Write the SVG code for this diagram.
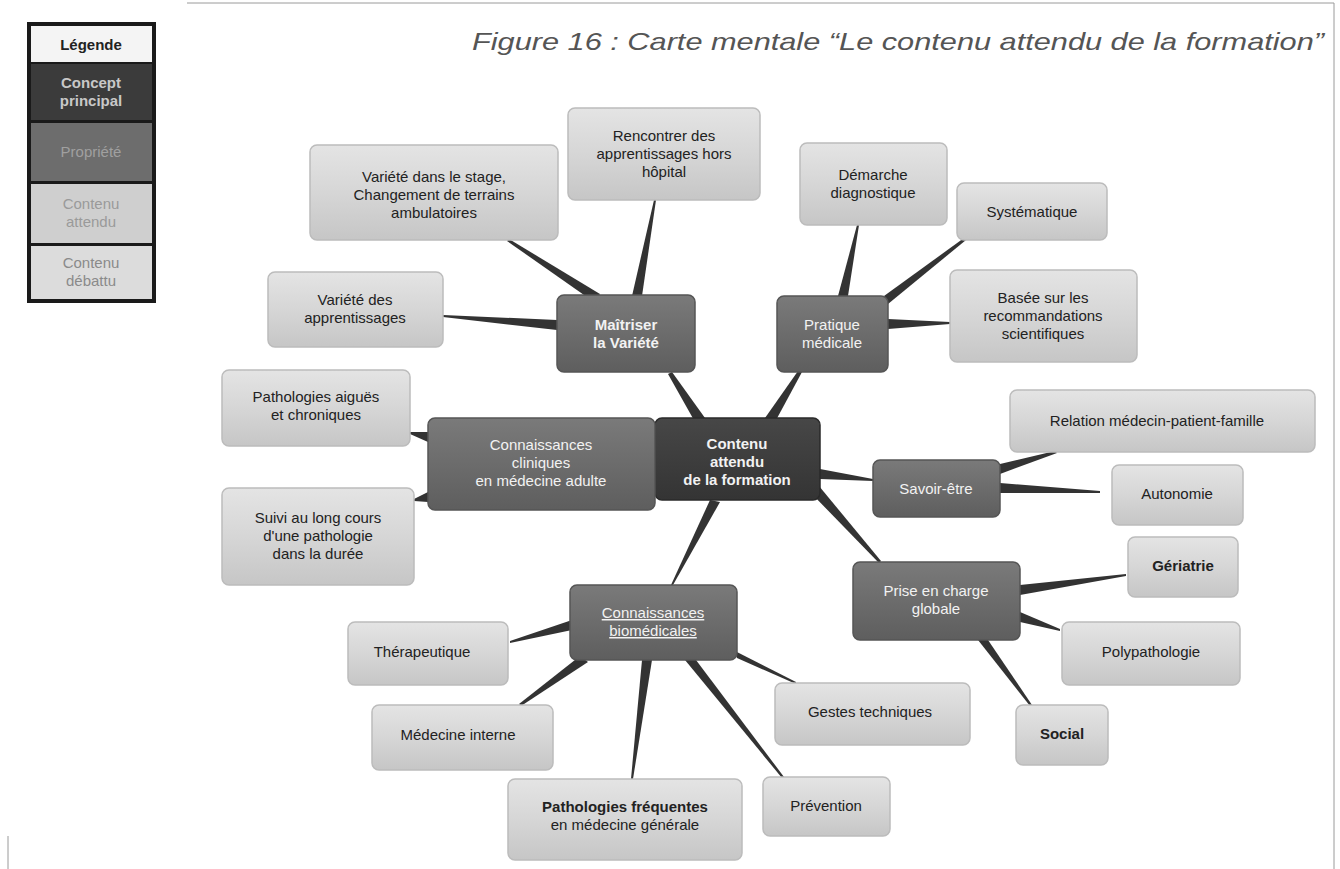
<svg xmlns="http://www.w3.org/2000/svg" width="1340" height="869" viewBox="0 0 1340 869">
  <defs>
    <linearGradient id="gLight" x1="0" y1="0" x2="0" y2="1">
      <stop offset="0" stop-color="#e4e4e4"/>
      <stop offset="0.5" stop-color="#d6d6d6"/>
      <stop offset="1" stop-color="#c6c6c6"/>
    </linearGradient>
    <linearGradient id="gMid" x1="0" y1="0" x2="0" y2="1">
      <stop offset="0" stop-color="#7a7a7a"/>
      <stop offset="1" stop-color="#5e5e5e"/>
    </linearGradient>
    <linearGradient id="gDark" x1="0" y1="0" x2="0" y2="1">
      <stop offset="0" stop-color="#474747"/>
      <stop offset="1" stop-color="#343434"/>
    </linearGradient>
    <style>
      .light { fill: url(#gLight); stroke: #bcbcbc; stroke-width: 1.5; }
      .mid { fill: url(#gMid); stroke: #555; stroke-width: 1.5; }
      .dark { fill: url(#gDark); stroke: #2a2a2a; stroke-width: 1.5; }
      .t { font-family: "Liberation Sans", Arial, sans-serif; font-size: 15px; text-anchor: middle; }
      .tl { fill: #222; }
      .tw { fill: #f2f2f2; }
      .b { font-weight: bold; }
      .conn { fill: #333; }
      .frame { stroke: #9a9a9a; stroke-width: 1; fill: none; }
    </style>
  </defs>

  <rect width="1340" height="869" fill="#ffffff"/>

  <!-- page frame -->
  <path class="frame" d="M187 3 H1334 V869"/>
  <path class="frame" d="M8 836 V869"/>

  <!-- title -->
  <text x="472" y="50" font-family="Liberation Sans, Arial, sans-serif" font-size="24" font-style="italic" fill="#555" textLength="852" lengthAdjust="spacingAndGlyphs">Figure 16 :  Carte mentale “Le contenu attendu de la formation”</text>

  <!-- legend -->
  <g id="legend">
    <rect x="27" y="22" width="129" height="281" fill="#1a1a1a"/>
    <rect x="31" y="26" width="121" height="36" fill="#f4f4f4"/>
    <text class="t b" x="91" y="50" fill="#222" font-size="14">Légende</text>
    <rect x="31" y="64" width="121" height="56" fill="#3b3b3b"/>
    <text class="t b" x="91" y="88" fill="#c8c8c8" font-size="15">Concept</text>
    <text class="t b" x="91" y="106" fill="#c8c8c8" font-size="15">principal</text>
    <rect x="31" y="123" width="121" height="58" fill="#6d6d6d"/>
    <text class="t" x="91" y="157" fill="#a0a0a0" font-size="15">Propriété</text>
    <rect x="31" y="184" width="121" height="59" fill="#cfcfcf"/>
    <text class="t" x="91" y="209" fill="#9a9a9a" font-size="15">Contenu</text>
    <text class="t" x="91" y="227" fill="#9a9a9a" font-size="15">attendu</text>
    <rect x="31" y="246" width="121" height="53" fill="#dcdcdc"/>
    <text class="t" x="91" y="268" fill="#8a8a8a" font-size="15">Contenu</text>
    <text class="t" x="91" y="286" fill="#8a8a8a" font-size="15">débattu</text>
  </g>

  <!-- tapered connectors: wide at the parent node, narrow at the child -->
  <g id="connectors">
    <polygon class="conn" points="695,422 705,418 672,372 668,374"/>
    <polygon class="conn" points="765,418 775,422 802,372 798,371"/>
    <polygon class="conn" points="655,455 655,465 640,461 640,459"/>
    <polygon class="conn" points="820,469 820,479 873,481 873,479"/>
    <polygon class="conn" points="819,486 811,493 879,563 881,561"/>
    <polygon class="conn" points="710,500 720,502 673,585 671,585"/>

    <polygon class="conn" points="600,294 594,302 507,241 509,239"/>
    <polygon class="conn" points="632,296 642,296 656,200 654,200"/>
    <polygon class="conn" points="557,320 557,330 443,317 443,315"/>

    <polygon class="conn" points="838,296 848,296 859,225 857,225"/>
    <polygon class="conn" points="884,296 888,304 966,240 964,238"/>
    <polygon class="conn" points="888,319 888,329 950,324 950,322"/>

    <polygon class="conn" points="428,432 428,442 410,434 410,432"/>
    <polygon class="conn" points="428,492 428,502 414,501 414,499"/>

    <polygon class="conn" points="1000,464 1000,474 1057,453 1055,451"/>
    <polygon class="conn" points="1000,483 1000,493 1100,493 1100,491"/>

    <polygon class="conn" points="1020,585 1020,595 1126,576 1126,574"/>
    <polygon class="conn" points="1020,612 1020,622 1060,631 1060,629"/>
    <polygon class="conn" points="978,640 988,640 1032,705 1030,706"/>

    <polygon class="conn" points="572,620 572,630 510,643 510,641"/>
    <polygon class="conn" points="580,656 588,662 521,706 519,704"/>
    <polygon class="conn" points="642,660 652,660 633,779 631,779"/>
    <polygon class="conn" points="685,660 693,656 784,777 782,778"/>
    <polygon class="conn" points="733,650 737,658 796,684 796,682"/>
  </g>

  <!-- central concept -->
  <g id="n-center">
    <rect class="dark" x="655" y="418" width="165" height="82" rx="7"/>
    <text class="t tw b" x="737" y="449">Contenu</text>
    <text class="t tw b" x="737" y="467">attendu</text>
    <text class="t tw b" x="737" y="485">de la formation</text>
  </g>

  <!-- properties -->
  <g id="n-variete">
    <rect class="mid" x="557" y="295" width="138" height="77" rx="7"/>
    <text class="t tw b" x="626" y="330">Maîtriser</text>
    <text class="t tw b" x="626" y="348">la Variété</text>
  </g>
  <g id="n-pratique">
    <rect class="mid" x="777" y="296" width="111" height="76" rx="7"/>
    <text class="t tw" x="832" y="330">Pratique</text>
    <text class="t tw" x="832" y="348">médicale</text>
  </g>
  <g id="n-adulte">
    <rect class="mid" x="428" y="418" width="227" height="92" rx="7"/>
    <text class="t tw" x="541" y="450">Connaissances</text>
    <text class="t tw" x="541" y="468">cliniques</text>
    <text class="t tw" x="541" y="486">en médecine adulte</text>
  </g>
  <g id="n-savoir-etre">
    <rect class="mid" x="873" y="460" width="127" height="57" rx="7"/>
    <text class="t tw" x="936" y="494">Savoir-être</text>
  </g>
  <g id="n-globale">
    <rect class="mid" x="853" y="562" width="167" height="78" rx="7"/>
    <text class="t tw" x="936" y="596">Prise en charge</text>
    <text class="t tw" x="936" y="614">globale</text>
  </g>
  <g id="n-biomed">
    <rect class="mid" x="570" y="585" width="167" height="75" rx="7"/>
    <text class="t tw" x="653" y="618" text-decoration="underline">Connaissances</text>
    <text class="t tw" x="653" y="636" text-decoration="underline">biomédicales</text>
  </g>

  <!-- contents -->
  <g id="n-stage">
    <rect class="light" x="310" y="145" width="248" height="95" rx="7"/>
    <text class="t tl" x="434" y="182">Variété dans le stage,</text>
    <text class="t tl" x="434" y="200">Changement de terrains</text>
    <text class="t tl" x="434" y="218" font-size="13">ambulatoires</text>
  </g>
  <g id="n-hors-hopital">
    <rect class="light" x="568" y="108" width="192" height="92" rx="7"/>
    <text class="t tl" x="664" y="141">Rencontrer des</text>
    <text class="t tl" x="664" y="159">apprentissages hors</text>
    <text class="t tl" x="664" y="177">hôpital</text>
  </g>
  <g id="n-apprentissages">
    <rect class="light" x="268" y="272" width="175" height="75" rx="7"/>
    <text class="t tl" x="355" y="305">Variété des</text>
    <text class="t tl" x="355" y="323">apprentissages</text>
  </g>
  <g id="n-demarche">
    <rect class="light" x="800" y="143" width="147" height="82" rx="7"/>
    <text class="t tl" x="873" y="180">Démarche</text>
    <text class="t tl" x="873" y="198">diagnostique</text>
  </g>
  <g id="n-systematique">
    <rect class="light" x="957" y="183" width="150" height="57" rx="7"/>
    <text class="t tl" x="1032" y="217">Systématique</text>
  </g>
  <g id="n-recommandations">
    <rect class="light" x="950" y="270" width="187" height="92" rx="7"/>
    <text class="t tl" x="1043" y="303">Basée sur les</text>
    <text class="t tl" x="1043" y="321">recommandations</text>
    <text class="t tl" x="1043" y="339">scientifiques</text>
  </g>
  <g id="n-aigues">
    <rect class="light" x="222" y="370" width="188" height="76" rx="7"/>
    <text class="t tl" x="316" y="402">Pathologies aiguës</text>
    <text class="t tl" x="316" y="420">et chroniques</text>
  </g>
  <g id="n-suivi">
    <rect class="light" x="222" y="488" width="192" height="97" rx="7"/>
    <text class="t tl" x="318" y="523">Suivi au long cours</text>
    <text class="t tl" x="318" y="541">d'une pathologie</text>
    <text class="t tl" x="318" y="559">dans la durée</text>
  </g>
  <g id="n-relation">
    <rect class="light" x="1010" y="390" width="305" height="62" rx="7"/>
    <text class="t tl" x="1157" y="426">Relation médecin-patient-famille</text>
  </g>
  <g id="n-autonomie">
    <rect class="light" x="1112" y="465" width="131" height="60" rx="7"/>
    <text class="t tl" x="1177" y="499">Autonomie</text>
  </g>
  <g id="n-geriatrie">
    <rect class="light" x="1128" y="537" width="110" height="60" rx="7"/>
    <text class="t tl b" x="1183" y="571">Gériatrie</text>
  </g>
  <g id="n-polypathologie">
    <rect class="light" x="1062" y="622" width="178" height="63" rx="7"/>
    <text class="t tl" x="1151" y="657">Polypathologie</text>
  </g>
  <g id="n-social">
    <rect class="light" x="1016" y="705" width="92" height="60" rx="7"/>
    <text class="t tl b" x="1062" y="739">Social</text>
  </g>
  <g id="n-therapeutique">
    <rect class="light" x="348" y="622" width="160" height="63" rx="7"/>
    <text class="t tl" x="422" y="657">Thérapeutique</text>
  </g>
  <g id="n-medecine-interne">
    <rect class="light" x="372" y="705" width="181" height="65" rx="7"/>
    <text class="t tl" x="458" y="740">Médecine interne</text>
  </g>
  <g id="n-gestes">
    <rect class="light" x="775" y="683" width="195" height="62" rx="7"/>
    <text class="t tl" x="870" y="717">Gestes techniques</text>
  </g>
  <g id="n-frequentes">
    <rect class="light" x="508" y="779" width="234" height="81" rx="7"/>
    <text class="t tl b" x="625" y="812">Pathologies fréquentes</text>
    <text class="t tl" x="625" y="830">en médecine générale</text>
  </g>
  <g id="n-prevention">
    <rect class="light" x="763" y="777" width="127" height="59" rx="7"/>
    <text class="t tl" x="826" y="811">Prévention</text>
  </g>
</svg>
